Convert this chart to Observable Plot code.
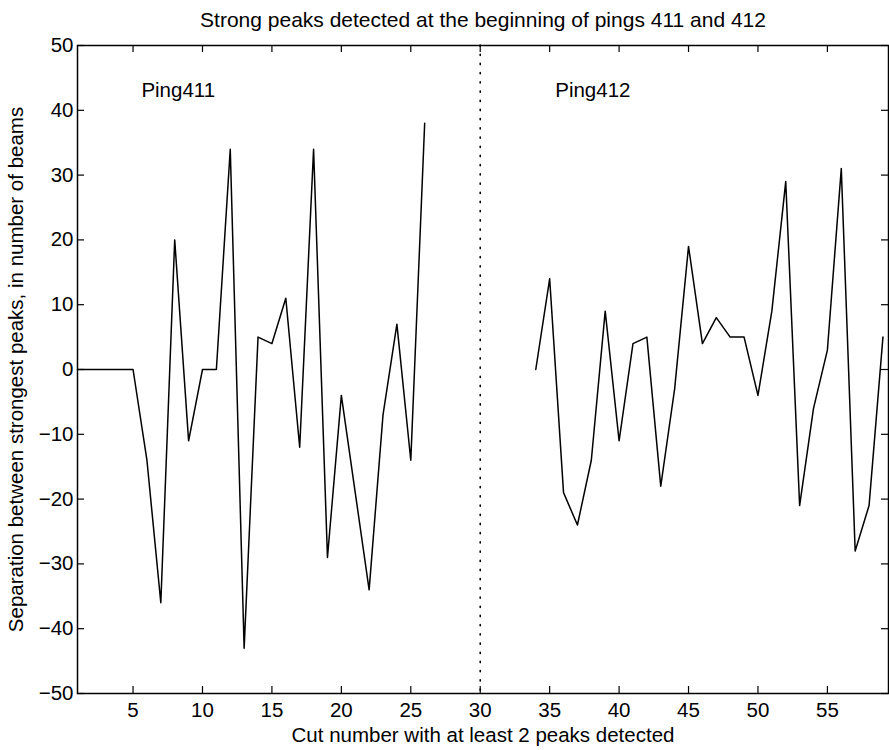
<!DOCTYPE html>
<html>
<head>
<meta charset="utf-8">
<script src="https://cdn.jsdelivr.net/npm/d3@7"></script>
<script src="https://cdn.jsdelivr.net/npm/@observablehq/plot@0.6"></script>
<style>
  html, body { margin: 0; padding: 0; background: #fff; }
</style>
</head>
<body>
<div id="chart"></div>
<script>
// ---- data ----
const cut411 = [1,2,3,4,5,6,7,8,9,10,11,12,13,14,15,16,17,18,19,20,21,22,23,24,25,26];
const sep411 = [0,0,0,0,0,-14,-36,20,-11,0,0,34,-43,5,4,11,-12,34,-29,-4,-19,-34,-7,7,-14,38];
const cut412 = [34,35,36,37,38,39,40,41,42,43,44,45,46,47,48,49,50,51,52,53,54,55,56,57,58,59];
const sep412 = [0,14,-19,-24,-14,9,-11,4,5,-18,-3,19,4,8,5,5,-4,9,29,-21,-6,3,31,-28,-21,5];
const xTicks = [5,10,15,20,25,30,35,40,45,50,55];
const yTicks = [-50,-40,-30,-20,-10,0,10,20,30,40,50];
const separatorCut = [30];
const pingLabels = ["Ping411", "Ping412"];
const pingLabelX = [5.6, 35.4];
const pingLabelY = [43, 43];
const titleText = "Strong peaks detected at the beginning of pings 411 and 412";
const xLabel = "Cut number with at least 2 peaks detected";
const yLabel = "Separation between strongest peaks, in number of beams";

const rows = [
  ...cut411.map((c, i) => ({cut: c, sep: sep411[i], ping: "411"})),
  ...cut412.map((c, i) => ({cut: c, sep: sep412[i], ping: "412"}))
];
const labels = pingLabels.map((t, i) => ({text: t, x: pingLabelX[i], y: pingLabelY[i]}));

const W = 889, H = 750;
const mT = 45, mB = 57, mL = 77, mR = 1;
const innerH = H - mT - mB;
const innerW = W - mL - mR;
const tk = 7;
const FS = 20.5;

const chart = Plot.plot({
  width: W,
  height: H,
  marginTop: mT,
  marginBottom: mB,
  marginLeft: mL,
  marginRight: mR,
  style: {fontFamily: "'Liberation Sans', Arial, Helvetica, sans-serif", fontSize: FS + "px", color: "#000", background: "#fff"},
  x: {domain: [1, 59.4]},
  y: {domain: [-50, 50]},
  marks: [
    Plot.axisX(xTicks, {tickSize: 0, tickPadding: 9, label: xLabel, labelAnchor: "center", labelArrow: "none", labelOffset: 48, fontSize: FS}),
    Plot.axisY(yTicks, {tickSize: 0, tickPadding: 4, tickFormat: d => d < 0 ? "\u2212" + Math.abs(d) : String(d), label: yLabel, labelAnchor: "center", labelArrow: "none", labelOffset: 69, fontSize: FS}),
    // inward ticks on all four sides
    Plot.tickX(xTicks, {x: d => d, insetTop: innerH - tk, stroke: "#000", strokeWidth: 1.2}),
    Plot.tickX(xTicks, {x: d => d, insetBottom: innerH - tk, stroke: "#000", strokeWidth: 1.2}),
    Plot.tickY(yTicks, {y: d => d, insetRight: innerW - tk, stroke: "#000", strokeWidth: 1.2}),
    Plot.tickY(yTicks, {y: d => d, insetLeft: innerW - tk, stroke: "#000", strokeWidth: 1.2}),
    Plot.ruleX(separatorCut, {x: d => d, stroke: "#000", strokeWidth: 1.6, strokeDasharray: "1.2,8", strokeLinecap: "round"}),
    Plot.line(rows, {x: "cut", y: "sep", z: "ping", stroke: "#000", strokeWidth: 1.5}),
    Plot.text(labels, {x: "x", y: "y", text: "text", textAnchor: "start", fontSize: FS, fill: "#000"}),
    Plot.text([titleText], {text: d => d, frameAnchor: "top", dy: -33, fontSize: 21, fill: "#000"}),
    Plot.frame({stroke: "#000", strokeWidth: 1.5})
  ]
});
document.getElementById("chart").appendChild(chart);
</script>
</body>
</html>
